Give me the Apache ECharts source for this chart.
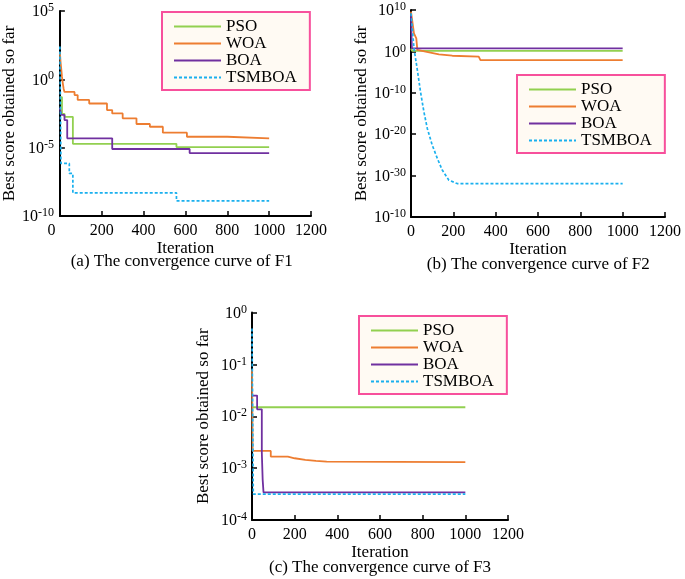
<!DOCTYPE html>
<html>
<head>
<meta charset="utf-8">
<script src="https://cdn.jsdelivr.net/npm/echarts@6/dist/echarts.min.js"></script>
<style>
html,body{margin:0;padding:0;background:#fff;}
#c{width:685px;height:579px;}
</style>
</head>
<body>
<div id="c"></div>
<script>
// ---------- data ----------
const names = ['PSO', 'WOA', 'BOA', 'TSMBOA'];
const xTicks = [0, 200, 400, 600, 800, 1000, 1200];
const captions = ['(a) The convergence curve of F1', '(b) The convergence curve of F2', '(c) The convergence curve of F3'];

// y tick exponent labels (bottom to top)
const f1YExp = ['-10', '-5', '0', '5'];
const f2YExp = ['-10', '-30', '-20', '-10', '0', '10'];
const f3YExp = ['-4', '-3', '-2', '-1', '0'];

// F1
const f1PSO_x = [0, 10, 22, 62, 557, 1000];
const f1PSO_y = [0.05, 0.003, 0.0018, 1.9e-5, 1.1e-5, 1.1e-5];
const f1WOA_x = [0, 3, 7, 10, 14, 18, 22, 70, 85, 140, 225, 250, 300, 366, 430, 492, 607, 800, 1000];
const f1WOA_y = [100, 20, 4.8, 1.5, 0.5, 0.2, 0.12, 0.07, 0.031, 0.017, 0.0056, 0.0032, 0.0014, 5.4e-4, 3.4e-4, 1.26e-4, 6.3e-5, 4.8e-5, 4.8e-5];
const f1BOA_x = [0, 6, 22, 35, 250, 620, 1000];
const f1BOA_y = [8e-3, 2.5e-3, 1.05e-3, 4.8e-5, 8e-6, 4e-6, 4e-6];
const f1TSM_x = [0, 5, 45, 62, 557, 1000];
const f1TSM_y = [250, 7e-7, 1.3e-7, 5e-9, 1.26e-9, 1.26e-9];

// F2
const f2PSO_x = [0, 5, 1000];
const f2PSO_y = [5, 1.3, 1.3];
const f2WOA_x = [0, 14, 25, 30, 69, 132, 195, 320, 328, 1000];
const f2WOA_y = [4e9, 2.3e4, 1.4e3, 2.2, 0.85, 0.2, 0.09, 0.052, 0.008, 0.008];
const f2BOA_x = [0, 4, 1000];
const f2BOA_y = [5e8, 5.6, 5.6];
const f2TSM_x = [0, 14, 30, 46, 61, 77, 100, 124, 147, 179, 218, 250, 1000];
const f2TSM_y = [1.6e9, 5.6, 3.2e-5, 7.9e-11, 2.5e-15, 2.5e-19, 2.5e-23, 1.6e-26, 2.5e-29, 7.9e-32, 1.2e-32, 1.2e-32, 1.2e-32];

// F3
const f3PSO_x = [0, 1000];
const f3PSO_y = [0.0149, 0.0149];
const f3WOA_x = [0, 3, 88, 168, 200, 250, 300, 350, 1000];
const f3WOA_y = [0.08, 0.00215, 0.00167, 0.00155, 0.00144, 0.00138, 0.00133, 0.0013, 0.0013];
const f3BOA_x = [0, 24, 46, 50, 54, 1000];
const f3BOA_y = [0.025, 0.0136, 0.002, 0.0006, 0.00034, 0.00034];
const f3TSM_x = [0, 6, 1000];
const f3TSM_y = [0.49, 0.000316, 0.000316];

// ---------- style ----------
const FONT = 'Liberation Serif';
const colors = { PSO: '#92d050', WOA: '#ed7d31', BOA: '#7030a0', TSMBOA: '#1ab0ee' };

// F2 spans 50 decades: ECharts' log scale rounds tick values below 1e-10 to 0,
// so that panel uses a value axis on log10 of the same values.
const useLog10 = [false, true, false];
function pairs(xs, ys, lg) { return xs.map((x, i) => [x, lg ? Math.log10(ys[i]) : ys[i]]); }

function supFormatter(exps, minExp, interval, lg) {
  return function (v) {
    const e = lg ? Math.round(v) : Math.round(Math.log10(v));
    const i = Math.round((e - minExp) / interval);
    const t = exps[i];
    return t === undefined ? '' : '{b|10}{s|' + t + '}';
  };
}

const grids = [
  { left: 55, top: 11, width: 256, height: 205 },
  { left: 411, top: 10, width: 254, height: 207 },
  { left: 252, top: 312.5, width: 256, height: 207.5 }
];

const yCfg = [
  { min: 1e-10, max: 1e5, interval: 5, minExp: -10, exps: f1YExp, gap: 36, margin: 6 },
  { min: -40, max: 10, interval: 10, minExp: -40, exps: f2YExp, gap: 39, margin: 5 },
  { min: 1e-4, max: 1, interval: 1, minExp: -4, exps: f3YExp, gap: 40, margin: 5 }
];

const xAxes = grids.map((g, i) => ({
  type: 'value', gridIndex: i, min: 0, max: 1200, interval: 200,
  name: 'Iteration', nameLocation: 'middle', nameGap: i === 2 ? 19 : 21,
  nameTextStyle: { fontFamily: FONT, fontSize: 17, color: '#000' },
  axisLine: { onZero: false, lineStyle: { color: '#000', width: 2 } },
  axisTick: { inside: true, length: 5, lineStyle: { color: '#000', width: 1.5 } },
  axisLabel: {
    fontFamily: FONT, fontSize: 16, color: '#000', margin: 7,
    formatter: v => {
      if (xTicks.indexOf(v) < 0) return '';
      return (i === 0 && v === 0) ? '{z|0}' : String(v);
    },
    rich: { z: { fontFamily: FONT, fontSize: 16, color: '#000', padding: [0, 17, 0, 0] } }
  },
  splitLine: { show: false }
}));

const yAxes = yCfg.map((c, i) => ({
  type: useLog10[i] ? 'value' : 'log', logBase: 10, gridIndex: i, min: c.min, max: c.max, interval: c.interval,
  name: 'Best score obtained so far', nameLocation: 'middle', nameGap: c.gap,
  nameTextStyle: { fontFamily: FONT, fontSize: 17, color: '#000' },
  axisLine: { show: true, onZero: false, lineStyle: { color: '#000', width: 2 } },
  axisTick: { show: true, inside: true, length: 5, lineStyle: { color: '#000', width: 1.5 } },
  minorTick: { show: false },
  axisLabel: {
    margin: c.margin,
    formatter: supFormatter(c.exps, c.minExp, c.interval, useLog10[i]),
    rich: {
      b: { fontFamily: FONT, fontSize: 16, color: '#000', lineHeight: 18, verticalAlign: 'bottom' },
      s: { fontFamily: FONT, fontSize: 12, color: '#000', lineHeight: 12, verticalAlign: 'top' }
    }
  },
  splitLine: { show: false }
}));

const dataSets = [
  [[f1PSO_x, f1PSO_y], [f1WOA_x, f1WOA_y], [f1BOA_x, f1BOA_y], [f1TSM_x, f1TSM_y]],
  [[f2PSO_x, f2PSO_y], [f2WOA_x, f2WOA_y], [f2BOA_x, f2BOA_y], [f2TSM_x, f2TSM_y]],
  [[f3PSO_x, f3PSO_y], [f3WOA_x, f3WOA_y], [f3BOA_x, f3BOA_y], [f3TSM_x, f3TSM_y]]
];
const useStep = [true, false, true];

const series = [];
dataSets.forEach((set, gi) => {
  set.forEach((xy, si) => {
    const nm = names[si];
    series.push({
      name: nm, type: 'line', xAxisIndex: gi, yAxisIndex: gi,
      data: pairs(xy[0], xy[1], useLog10[gi]), step: useStep[gi] ? 'end' : false,
      symbol: 'none', showSymbol: false, smooth: false,
      lineStyle: nm === 'TSMBOA'
        ? { color: colors[nm], width: 1.7, type: [3, 2] }
        : { color: colors[nm], width: 1.8 },
      itemStyle: { color: colors[nm] },
      emphasis: { disabled: true },
      silent: true
    });
  });
});

const legendPos = [
  { left: 162, top: 12 },
  { left: 517, top: 75 },
  { left: 359, top: 316 }
];
const legends = legendPos.map(p => ({
  left: p.left, top: p.top, orient: 'vertical',
  data: names,
  itemWidth: 47, itemHeight: 14, itemGap: 0,
  padding: [6, 13, 4, 11],
  backgroundColor: '#fffaf3',
  borderColor: '#f7509c', borderWidth: 2,
  selectedMode: false,
  itemStyle: { opacity: 0, borderWidth: 0 },
  textStyle: { fontFamily: FONT, fontSize: 17, color: '#000', lineHeight: 17 }
}));

const captionPos = [
  { x: 181.7, y: 262 },
  { x: 538.3, y: 265 },
  { x: 380, y: 568 }
];
const graphics = captionPos.map((p, i) => ({
  type: 'text', x: p.x, y: p.y, silent: true,
  style: { text: captions[i], fontFamily: FONT, fontSize: 17, fill: '#000', align: 'center', verticalAlign: 'middle' }
}));

const chart = echarts.init(document.getElementById('c'), null, { renderer: 'canvas' });
chart.setOption({
  animation: false,
  backgroundColor: '#fff',
  grid: grids,
  xAxis: xAxes,
  yAxis: yAxes,
  legend: legends,
  series: series,
  graphic: graphics
});
</script>
</body>
</html>
